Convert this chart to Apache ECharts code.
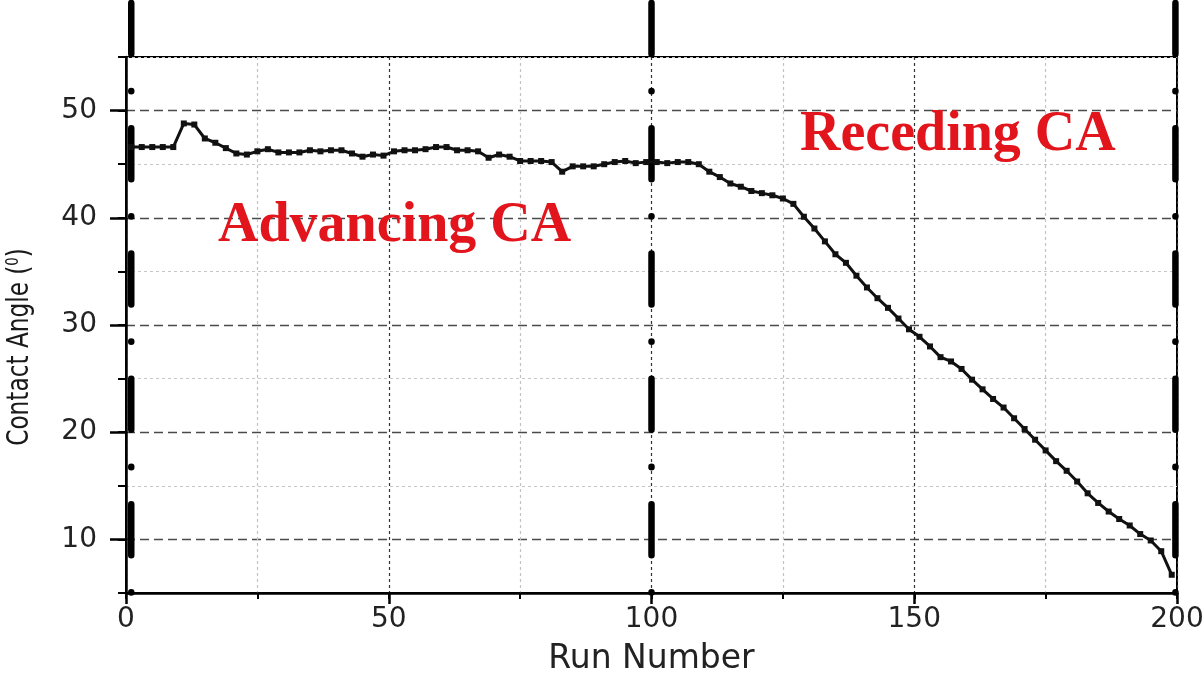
<!DOCTYPE html>
<html>
<head>
<meta charset="utf-8">
<title>Contact Angle vs Run Number</title>
<script src="https://cdn.jsdelivr.net/npm/echarts@6/dist/echarts.min.js"></script>
<style>
  html, body { margin: 0; padding: 0; background: #fff; }
  #chart { width: 1204px; height: 677px; }
</style>
</head>
<body>
<div id="chart"></div>
<script>
// Run numbers of the recorded contact angle points
const runs = [
  1, 3, 5, 7, 9, 11, 13, 15, 17, 19, 21, 23, 25, 27, 29, 31, 33, 35, 37, 39,
  41, 43, 45, 47, 49, 51, 53, 55, 57, 59, 61, 63, 65, 67, 69, 71, 73, 75, 77, 79,
  81, 83, 85, 87, 89, 91, 93, 95, 97, 99, 101, 103, 105, 107, 109, 111, 113, 115, 117, 119,
  121, 123, 125, 127, 129, 131, 133, 135, 137, 139, 141, 143, 145, 147, 149, 151, 153, 155, 157, 159,
  161, 163, 165, 167, 169, 171, 173, 175, 177, 179, 181, 183, 185, 187, 189, 191, 193, 195, 197, 199
];
// Contact angle (degrees) at each run
const angles = [
  46.6, 46.6, 46.6, 46.6, 46.6, 48.8, 48.7, 47.4, 47.0, 46.5, 46.0, 45.9, 46.2, 46.4, 46.1, 46.1, 46.1, 46.3, 46.2, 46.3,
  46.3, 46.0, 45.7, 45.9, 45.8, 46.2, 46.3, 46.3, 46.4, 46.6, 46.6, 46.3, 46.3, 46.2, 45.6, 45.9, 45.7, 45.3, 45.3, 45.3,
  45.2, 44.3, 44.8, 44.8, 44.8, 45.0, 45.2, 45.3, 45.1, 45.2, 45.2, 45.1, 45.2, 45.2, 45.0, 44.3, 43.8, 43.2, 42.9, 42.5,
  42.3, 42.1, 41.8, 41.3, 40.1, 39.0, 37.8, 36.6, 35.8, 34.6, 33.5, 32.5, 31.6, 30.6, 29.6, 28.9, 28.0, 27.0, 26.6, 25.9,
  24.9, 24.0, 23.1, 22.3, 21.3, 20.3, 19.3, 18.3, 17.3, 16.4, 15.4, 14.3, 13.4, 12.6, 11.9, 11.3, 10.5, 9.9, 8.9, 6.7
];
// Segment boundaries (run numbers) and the vertical span of the divider lines
const dividerRuns = [1, 100, 199.7];
const dividerSpan = [60.04, 5];
// Axis ranges and labelled ticks
const xRange = [0, 200];
const yRange = [5, 55];
const xMajorTicks = [0, 50, 100, 150, 200];
const yMajorTicks = [10, 20, 30, 40, 50];
// Axis titles and annotations
const xTitle = 'Run Number';
const yTitle = 'Contact Angle ({s|0})';
const phaseLabels = ['Advancing CA', 'Receding CA'];

const chart = echarts.init(document.getElementById('chart'), null, { renderer: 'canvas' });

const labelFont = '"DejaVu Sans", "Liberation Sans", sans-serif';
const narrowFont = '"DejaVu Sans Condensed", "Liberation Sans Narrow", "DejaVu Sans", sans-serif';
const phaseFont = 'bold 56px "Liberation Serif", "Times New Roman", serif';
const curveData = runs.map((r, i) => [r, angles[i]]);

// Thick dash-dot markers separating the advancing and receding phases
const dividerSeries = dividerRuns.map((r) => ({
  type: 'line',
  data: [[r, dividerSpan[0]], [r, dividerSpan[1]]],
  symbol: 'none',
  clip: false,
  silent: true,
  z: 5,
  lineStyle: { color: '#000', width: 6.5, type: [51, 37, 0.3, 37], cap: 'round' }
}));

const option = {
  backgroundColor: '#fff',
  animation: false,
  grid: {
    left: 126, right: 27, top: 57, bottom: 84,
    containLabel: false, outerBoundsMode: 'none',
    show: true, borderColor: '#000', borderWidth: 2, backgroundColor: 'transparent'
  },
  xAxis: [
    {
      type: 'value', min: xRange[0], max: xRange[1], interval: 25,
      axisLine: { show: true, lineStyle: { color: '#000', width: 2.5 } },
      axisTick: { show: true, length: 6, lineStyle: { color: '#000', width: 2 } },
      axisLabel: {
        margin: 13, color: '#222', fontSize: 28, fontFamily: labelFont,
        formatter: (v) => (xMajorTicks.includes(v) ? String(v) : '')
      },
      splitLine: { show: true, lineStyle: { color: ['#333', '#c2c2c2'], width: 1.2, type: [3, 3] } },
      name: xTitle, nameLocation: 'middle', nameGap: 50,
      nameTextStyle: { fontSize: 33, color: '#222', fontFamily: labelFont }
    },
    {
      // longer ticks at the labelled positions
      type: 'value', min: xRange[0], max: xRange[1], interval: 25, position: 'bottom',
      axisLine: { show: false },
      axisTick: { show: true, length: 11, customValues: xMajorTicks, lineStyle: { color: '#000', width: 2.5 } },
      axisLabel: { show: false },
      splitLine: { show: false }
    }
  ],
  yAxis: [
    {
      type: 'value', min: yRange[0], max: yRange[1], interval: 5,
      axisLine: { show: true, lineStyle: { color: '#000', width: 2.5 } },
      axisTick: { show: true, length: 8, lineStyle: { color: '#000', width: 2 } },
      axisLabel: {
        margin: 29, color: '#222', fontSize: 28, fontFamily: labelFont,
        formatter: (v) => (yMajorTicks.includes(v) ? String(v) : '')
      },
      splitLine: { show: true, lineStyle: { color: ['#c6c6c6', 'transparent'], width: 1, type: [3, 3] } }
    },
    {
      // longer ticks and dashed grid lines at the labelled positions
      type: 'value', min: yRange[0], max: yRange[1], interval: 5, position: 'left',
      axisLine: { show: false },
      axisTick: { show: true, length: 16, customValues: yMajorTicks, lineStyle: { color: '#000', width: 2.5 } },
      axisLabel: { show: false },
      splitLine: { show: true, lineStyle: { color: '#4a4a4a', width: 1.3, type: [9, 5] } }
    }
  ],
  graphic: [
    {
      type: 'text', x: 20, y: 347, rotation: Math.PI / 2, scaleX: 0.86, z: 10,
      style: {
        text: yTitle, fill: '#1a1a1a', font: '30px ' + narrowFont,
        align: 'center', verticalAlign: 'middle',
        rich: { s: { fontSize: 17, fill: '#1a1a1a', fontFamily: narrowFont, verticalAlign: 'top' } }
      }
    },
    {
      type: 'text', left: 218, top: 199, z: 10,
      style: { text: phaseLabels[0], fill: '#e2141c', font: phaseFont }
    },
    {
      type: 'text', left: 800, top: 108, z: 10,
      style: { text: phaseLabels[1], fill: '#e2141c', font: phaseFont }
    }
  ],
  series: [
    ...dividerSeries,
    {
      name: 'Contact Angle',
      type: 'line',
      data: curveData,
      showSymbol: true,
      showAllSymbol: true,
      symbol: 'rect',
      symbolSize: 6,
      z: 6,
      lineStyle: { color: '#111', width: 3 },
      itemStyle: { color: '#111' }
    }
  ]
};

chart.setOption(option);
</script>
</body>
</html>
